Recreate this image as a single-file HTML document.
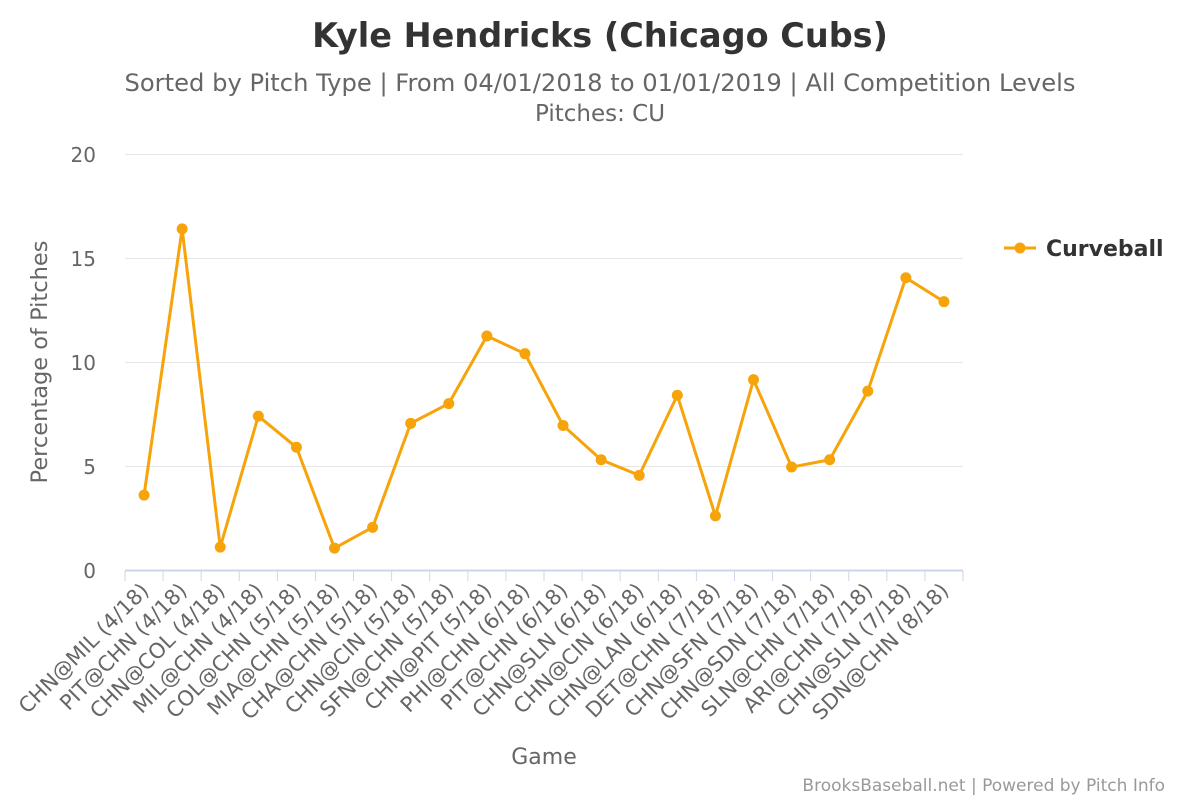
<!DOCTYPE html>
<html><head><style>
body{margin:0;background:#fff;}
svg text{font-family:"DejaVu Sans","Liberation Sans",sans-serif;}
</style></head><body>
<svg width="1200" height="800" xmlns="http://www.w3.org/2000/svg">
<rect width="1200" height="800" fill="#fff"/>
<text x="600" y="47" text-anchor="middle" font-size="33.5" font-weight="bold" fill="#333">Kyle Hendricks (Chicago Cubs)</text>
<text x="600" y="91" text-anchor="middle" font-size="24" fill="#666" textLength="951" lengthAdjust="spacingAndGlyphs">Sorted by Pitch Type | From 04/01/2018 to 01/01/2019 | All Competition Levels</text>
<text x="600" y="121" text-anchor="middle" font-size="23" fill="#666">Pitches: CU</text>
<g stroke="#e6e6e6" stroke-width="1">
<line x1="125" y1="154.5" x2="963" y2="154.5"/><line x1="125" y1="258.5" x2="963" y2="258.5"/>
<line x1="125" y1="362.5" x2="963" y2="362.5"/><line x1="125" y1="466.5" x2="963" y2="466.5"/>
</g>
<line x1="125" y1="570.5" x2="963" y2="570.5" stroke="#ccd6eb" stroke-width="2"/>
<g font-size="20" fill="#666" text-anchor="end">
<text x="96" y="162">20</text><text x="96" y="266">15</text><text x="96" y="370">10</text><text x="96" y="474">5</text><text x="96" y="578">0</text>
</g>
<text transform="translate(47,362) rotate(-90)" text-anchor="middle" font-size="22.5" fill="#666">Percentage of Pitches</text>
<text x="544" y="764" text-anchor="middle" font-size="22" fill="#666">Game</text>
<text x="1165" y="791" text-anchor="end" font-size="17" fill="#999">BrooksBaseball.net | Powered by Pitch Info</text>
<g id="ticks" stroke="#ccd6eb" stroke-width="1"></g>
<g id="labels" font-size="21" fill="#666" text-anchor="end"></g>
<polyline id="line" fill="none" stroke="#f7a30a" stroke-width="3" stroke-linejoin="round"/>
<g id="pts" fill="#f7a30a"></g>
<line x1="1004" y1="248" x2="1036" y2="248" stroke="#f7a30a" stroke-width="3"/>
<circle cx="1020" cy="248" r="5.5" fill="#f7a30a"/>
<text x="1046" y="256" font-size="22" font-weight="bold" fill="#333">Curveball</text>
</svg>
<script>
var labs=["CHN@MIL (4/18)","PIT@CHN (4/18)","CHN@COL (4/18)","MIL@CHN (4/18)","COL@CHN (5/18)","MIA@CHN (5/18)","CHA@CHN (5/18)","CHN@CIN (5/18)","SFN@CHN (5/18)","CHN@PIT (5/18)","PHI@CHN (6/18)","PIT@CHN (6/18)","CHN@SLN (6/18)","CHN@CIN (6/18)","CHN@LAN (6/18)","DET@CHN (7/18)","CHN@SFN (7/18)","CHN@SDN (7/18)","SLN@CHN (7/18)","ARI@CHN (7/18)","CHN@SLN (7/18)","SDN@CHN (8/18)"];
var v=[3.6,16.4,1.1,7.4,5.9,1.05,2.05,7.05,8.0,11.25,10.4,6.95,5.3,4.55,8.4,2.6,9.15,4.95,5.3,8.6,14.05,12.9];
var ns="http://www.w3.org/2000/svg",w=(963-125)/22,pts=[];
var T=document.getElementById("ticks"),L=document.getElementById("labels"),P=document.getElementById("pts");
for(var i=0;i<=22;i++){var t=document.createElementNS(ns,"line");var x=125+i*w;t.setAttribute("x1",x);t.setAttribute("x2",x);t.setAttribute("y1",571);t.setAttribute("y2",581);T.appendChild(t);}
for(var i=0;i<22;i++){var x=125+(i+0.5)*w,y=570-v[i]*20.8;pts.push(x+","+y);
var c=document.createElementNS(ns,"circle");c.setAttribute("cx",x);c.setAttribute("cy",y);c.setAttribute("r",5.5);P.appendChild(c);
var tx=document.createElementNS(ns,"text");tx.setAttribute("transform","translate("+(x+6)+",592) rotate(-45)");tx.textContent=labs[i];L.appendChild(tx);}
document.getElementById("line").setAttribute("points",pts.join(" "));
</script>
</body></html>
